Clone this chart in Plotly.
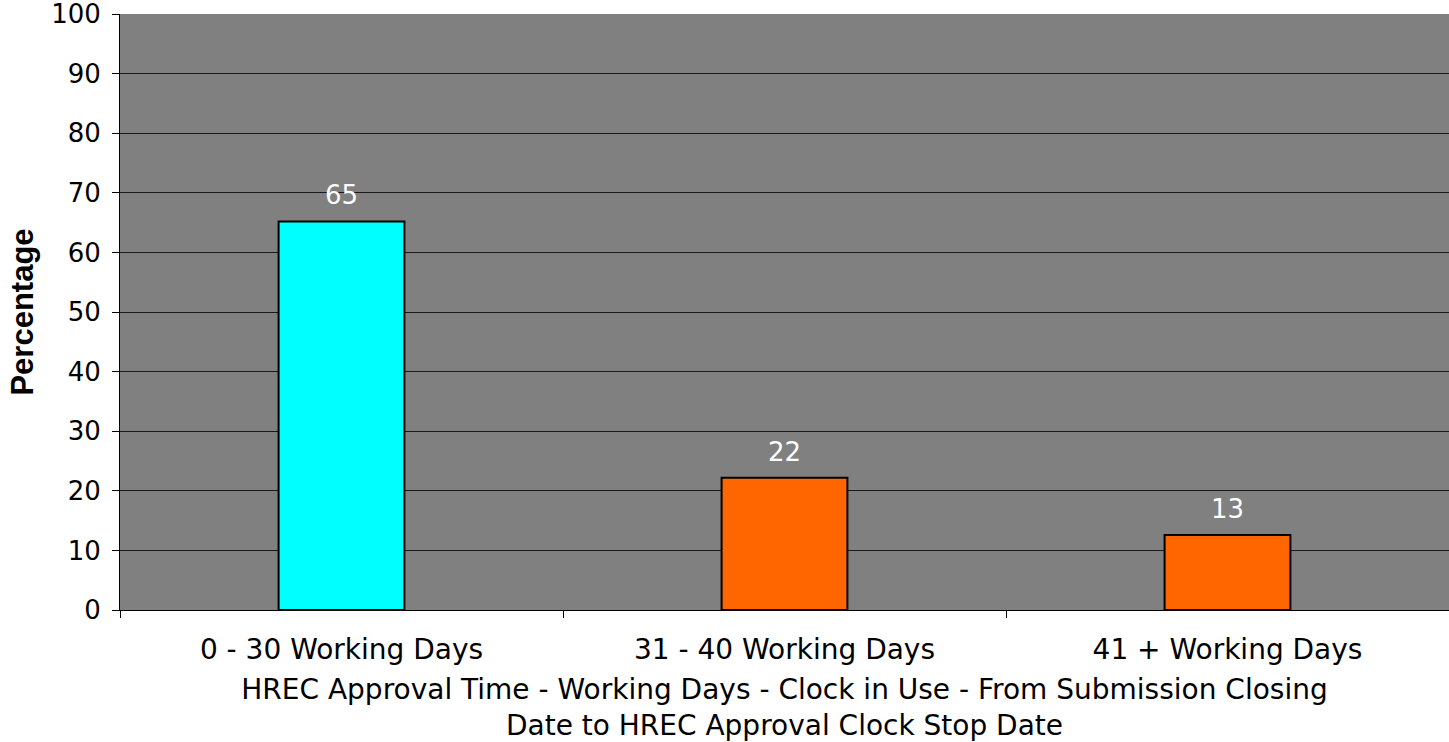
import plotly.graph_objects as go

# Share of HREC approvals by working-day band
categories = ["0 - 30 Working Days", "31 - 40 Working Days", "41 + Working Days"]
percentages = [65.2, 22.2, 12.6]
bar_colors = ["#00FFFF", "#FF6600", "#FF6600"]
y_ticks = [0, 10, 20, 30, 40, 50, 60, 70, 80, 90, 100]

font_main = "Verdana, 'DejaVu Sans', sans-serif"

fig = go.Figure()
fig.add_trace(go.Bar(
    x=categories,
    y=percentages,
    width=0.284,
    marker=dict(color=bar_colors, line=dict(color="black", width=2)),
    hoverinfo="skip",
))

for cat, val in zip(categories, percentages):
    fig.add_annotation(
        x=cat, y=val, text=f"{val:.0f}",
        showarrow=False, yanchor="bottom", yshift=9,
        font=dict(family=font_main, size=26, color="white"),
    )

fig.update_layout(
    width=1449, height=742,
    margin=dict(l=120, r=0, t=14, b=132),
    paper_bgcolor="white",
    plot_bgcolor="#808080",
    showlegend=False,
    font=dict(family=font_main, size=26, color="black"),
    xaxis=dict(
        type="category",
        tickson="boundaries",
        ticks="outside", ticklen=7, tickcolor="black", tickwidth=1,
        showline=True, linecolor="black", linewidth=1,
        showgrid=False,
        tickfont=dict(family=font_main, size=28),
        ticklabelstandoff=14,
        title=dict(
            text="HREC Approval Time - Working Days - Clock in Use - From Submission Closing<br>Date to HREC Approval Clock Stop Date",
            font=dict(family=font_main, size=28),
            standoff=16,
        ),
    ),
    yaxis=dict(
        range=[0, 100],
        tickvals=y_ticks,
        ticks="outside", ticklen=7, tickcolor="black", tickwidth=1,
        showline=True, linecolor="black", linewidth=1,
        showgrid=True, gridcolor="#1a1a1a", gridwidth=1,
        zeroline=False,
        tickfont=dict(family=font_main, size=26),
        ticklabelstandoff=6,
        ticklabeloverflow="allow",
        title=dict(
            text="<b>Percentage</b>",
            font=dict(family="Arial, 'Liberation Sans', sans-serif", size=31),
            standoff=8,
        ),
    ),
)

fig.write_html("out.html")
